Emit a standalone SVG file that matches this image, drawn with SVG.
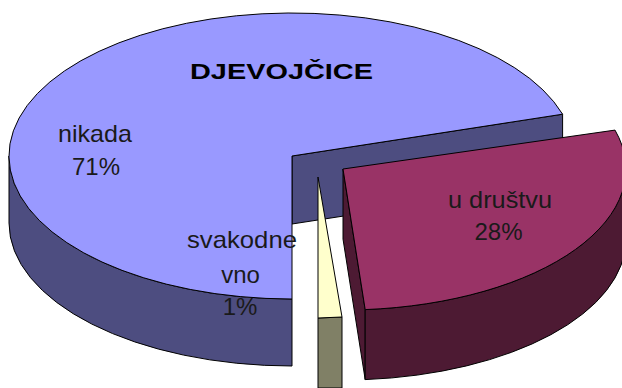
<svg xmlns="http://www.w3.org/2000/svg" width="622" height="388" viewBox="0 0 622 388">
  <style>
    .edge { stroke: #000; stroke-width: 1; stroke-linejoin: round; }
    .blueTop { fill: #9999FF; }
    .blueSide { fill: #4D4D80; }
    .redTop { fill: #993366; }
    .redSide { fill: #4D1A33; }
    .yelTop { fill: #FFFFCC; }
    .yelSide { fill: #808066; }
    .lbl { font-family: "Liberation Sans", Arial, sans-serif; font-size: 24px; fill: #1a1a1a; text-anchor: middle; }
    .title { font-family: "Liberation Sans", Arial, sans-serif; font-size: 22px; font-weight: bold; fill: #000; text-anchor: middle; }
  </style>
  <rect width="622" height="388" fill="#FFFFFF"/>

  <g id="slice-nikada">
    <path class="blueSide edge" d="M292,156 L562.6,114.2 L562.6,182.2 L292,224 Z"/>
    <path class="blueSide edge" d="M9,156 A283,143 0 0 0 292,299 L292,366 A283,143 0 0 1 9,223 Z"/>
    <path class="blueTop edge" d="M292,156 L562.6,114.2 A283,143 0 1 0 292,299 Z"/>
  </g>

  <g id="slice-svakodnevno">
    <path class="yelSide edge" d="M318,318 L342,317 L342,388 L318,388 Z"/>
    <path class="yelTop edge" d="M318,177 L342,317 L318,318 Z"/>
  </g>

  <g id="slice-udrustvu">
    <path class="redSide edge" d="M343,169 L365.2,309.6 L365.2,379.6 L343,239 Z"/>
    <path class="redSide edge" d="M626,169 A283,141 0 0 1 365.2,309.6 L365.2,379.6 A283,141 0 0 0 626,239 Z"/>
    <path class="redTop edge" d="M343,169 L615,130.1 A283,141 0 0 1 365.2,309.6 Z"/>
  </g>

  <g id="labels">
    <text class="title" x="281.5" y="79" textLength="183" lengthAdjust="spacingAndGlyphs">DJEVOJČICE</text>
    <text class="lbl" x="95" y="142" textLength="74" lengthAdjust="spacingAndGlyphs">nikada</text>
    <text class="lbl" x="96" y="175">71%</text>
    <text class="lbl" x="242" y="248" textLength="110" lengthAdjust="spacingAndGlyphs">svakodne</text>
    <text class="lbl" x="240.5" y="283">vno</text>
    <text class="lbl" x="240" y="315">1%</text>
    <text class="lbl" x="500" y="208" textLength="104" lengthAdjust="spacingAndGlyphs">u društvu</text>
    <text class="lbl" x="498.5" y="240">28%</text>
  </g>
</svg>
